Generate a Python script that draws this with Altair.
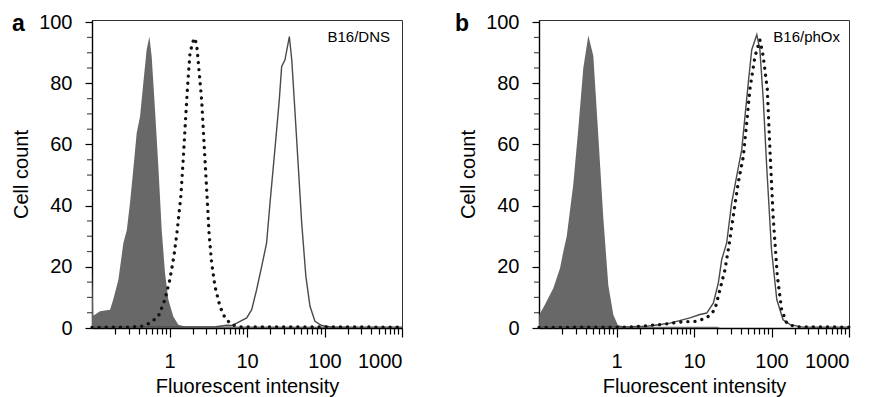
import altair as alt
import pandas as pd

FONT = "Liberation Sans"

# ---- tick values ----
X_MAJOR = [1, 10, 100, 1000]
X_MINOR = [0.2, 0.3, 0.4, 0.5, 0.6, 0.7, 0.8, 0.9,
           2, 3, 4, 5, 6, 7, 8, 9,
           20, 30, 40, 50, 60, 70, 80, 90,
           200, 300, 400, 500, 600, 700, 800, 900]
Y_MAJOR = [0, 20, 40, 60, 80, 100]
Y_MINOR = [5, 10, 15, 25, 30, 35, 45, 50, 55, 65, 70, 75, 85, 90, 95]

# ---- panel a: B16/DNS ----
a_fill_x = [0.100, 0.101, 0.104, 0.127, 0.171, 0.188, 0.219, 0.254, 0.281, 0.309, 0.341, 0.377,
            0.417, 0.459, 0.507, 0.550, 0.589, 0.650, 0.718, 0.794, 0.875, 0.966, 1.12, 1.30,
            1.58, 20.0, 200.0, 210.0]
a_fill_y = [0, 19, 4, 5.5, 6, 9.3, 15.8, 27.8, 32, 40.8, 51.8, 63.7,
            69.2, 80, 91, 95.3, 88.8, 71.4, 52.8, 32, 18, 9.3, 3.8, 1.1,
            0.5, 0.5, 0.4, 0]

a_dot_x = [0.1, 0.3, 0.45, 0.562, 0.718, 0.875, 1.01, 1.14, 1.26, 1.40, 1.51, 1.62, 1.72, 1.84,
           2.07, 2.24, 2.40, 2.60, 2.79, 3.02, 3.24, 3.50, 3.86, 4.47, 5.20, 6.31, 7.94, 1000]
a_dot_y = [0.2, 0.3, 0.6, 1.6, 3.8, 9.3, 15.8, 23.4, 32, 43, 56, 69.2, 80, 90,
           94.8, 93, 84.4, 74.6, 60.5, 45.2, 31, 21.2, 13.6, 7.1, 3.3, 1.1, 0.4, 0.3]

a_sol_x = [0.1, 4.0, 5.5, 6.3, 7.36, 9.91, 11.5, 13.3, 15.5, 17.9, 19.8, 22.9, 26.1, 28.0,
           30.9, 35.2, 37.8, 41.7, 45.9, 50.8, 57.5, 65.0, 75.3, 92.0, 126, 1000]
a_sol_y = [0.3, 0.4, 0.9, 0.8, 1.6, 3.3, 6, 12.5, 20.2, 27.8, 40.8, 58.3, 74.6, 85.5,
           87.7, 95.3, 87.7, 70.3, 52.8, 34.3, 16.9, 7.1, 2.2, 0.8, 0.3, 0.3]

# ---- panel b: B16/phOx ----
b_fill_x = [0.100, 0.101, 0.119, 0.153, 0.187, 0.206, 0.228, 0.277, 0.321, 0.373, 0.433, 0.502,
            0.582, 0.676, 0.784, 0.910, 1.04, 1.3, 20.0, 22.0]
b_fill_y = [0, 4.3, 7.6, 13, 19.6, 25, 30, 47, 65, 85, 95.6, 89,
            63, 36, 14, 4.3, 1, 0.4, 0.4, 0]

b_sol_x = [0.1, 1.5, 2.5, 3.31, 4.90, 8.87, 11.9, 14.6, 17.8, 20.6, 22.8, 26.4, 30.6, 35.5,
           41.3, 45.5, 50.1, 55.6, 64.6, 70.8, 78.3, 86.7, 100, 117, 141, 174, 251, 1000]
b_sol_y = [0.3, 0.4, 0.6, 1.0, 1.6, 3.3, 4.4, 4.9, 8.2, 14.7, 22.4, 27.8, 40.8, 49.6,
           58.3, 69.2, 80, 91, 95.9, 91, 74.6, 52.8, 25.6, 9.3, 2.7, 1.1, 0.3, 0.3]

b_dot_x = [0.1, 1.5, 4.0, 7.0, 10.8, 14.6, 18.6, 21.6, 25.1, 28.6, 32.1, 37.2, 43.3,
           47.9, 52.5, 61.2, 70.8, 78.3, 88.3, 95.5, 105, 119, 135, 157, 200, 1000]
b_dot_y = [0.2, 0.3, 1.2, 2.0, 2.2, 3.3, 6, 12.5, 19, 27.8, 36.5, 47.4, 56.1,
           67, 77.9, 88.8, 94.2, 88.8, 77.9, 58.3, 36.5, 16.9, 6, 1.6, 0.4, 0.3]


def panel(fx, fy, dx, dy, sx, sy, label, label_x, letter, letter_x):
    xs = alt.Scale(type="log", domain=[0.1, 1000], nice=False)
    ys = alt.Scale(domain=[0, 100.7], nice=False, zero=False)

    area = alt.Chart(pd.DataFrame({"x": fx, "y": fy})).mark_area(
        color="#686868", interpolate="linear"
    ).encode(
        x=alt.X("x:Q", scale=xs, title="Fluorescent intensity",
                axis=alt.Axis(values=X_MAJOR, format="~g", tickSize=9, labelPadding=14,
                              titlePadding=5, orient="bottom")),
        y=alt.Y("y:Q", scale=ys, title="Cell count",
                axis=alt.Axis(values=Y_MAJOR, tickSize=7, labelPadding=13,
                              titlePadding=7, orient="left")),
    )
    solid = alt.Chart(pd.DataFrame({"x": sx, "y": sy})).mark_line(
        color="#4a4a4a", strokeWidth=1.4
    ).encode(
        x=alt.X("x:Q", scale=xs, axis=None),
        y=alt.Y("y:Q", scale=ys, axis=None),
    )
    dotted = alt.Chart(pd.DataFrame({"x": dx, "y": dy})).mark_line(
        color="#111111", strokeWidth=3.3, strokeDash=[0.1, 7], strokeCap="round"
    ).encode(
        x=alt.X("x:Q", scale=xs, title=None,
                axis=alt.Axis(values=X_MINOR, labels=False, tickSize=6, domain=False,
                              orient="bottom")),
        y=alt.Y("y:Q", scale=ys, axis=None),
    )
    yminor = alt.Chart(pd.DataFrame({"v": Y_MINOR})).mark_tick(
        color="black", thickness=1.2, size=5, orient="horizontal"
    ).encode(
        y=alt.Y("v:Q", scale=ys, axis=None),
        x=alt.value(-2.5),
    )
    lab = alt.Chart(pd.DataFrame({"t": [label]})).mark_text(
        align="right", baseline="alphabetic", font=FONT, fontSize=15, color="black"
    ).encode(text="t:N", x=alt.value(label_x), y=alt.value(22))
    let = alt.Chart(pd.DataFrame({"t": [letter]})).mark_text(
        align="left", baseline="alphabetic", font=FONT, fontSize=23, fontWeight="bold",
        color="black"
    ).encode(text="t:N", x=alt.value(letter_x), y=alt.value(10.5))

    return alt.layer(area, solid, dotted, yminor, lab, let).resolve_axis(
        x="independent", y="independent"
    ).properties(width=310, height=308)


pa = panel(a_fill_x, a_fill_y, a_dot_x, a_dot_y, a_sol_x, a_sol_y, "B16/DNS", 298, "a", -80)
pb = panel(b_fill_x, b_fill_y, b_dot_x, b_dot_y, b_sol_x, b_sol_y, "B16/phOx", 301, "b", -84)

chart = alt.hconcat(pa, pb, spacing=137, bounds="flush").configure_view(
    stroke="#333333", strokeWidth=1
).configure_axis(
    domainColor="black", domainWidth=1.4, tickColor="black", tickWidth=1.2,
    labelFont=FONT, labelFontSize=20, labelColor="black",
    titleFont=FONT, titleFontSize=20, titleFontWeight="normal", titleColor="black",
    grid=False
).properties(padding={"left": 3, "top": 3, "right": 5, "bottom": 2})

chart.save("out.html", embed_options={"renderer": "svg", "actions": False})
